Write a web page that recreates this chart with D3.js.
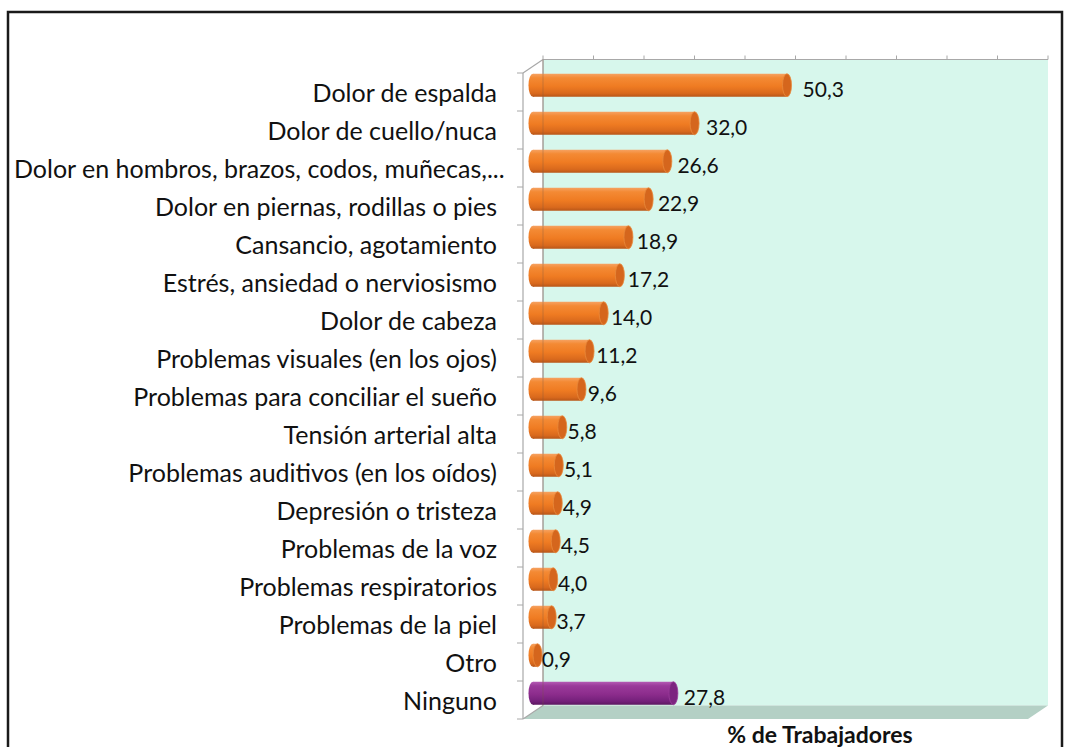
<!DOCTYPE html>
<html>
<head>
<meta charset="utf-8">
<script src="https://cdn.jsdelivr.net/npm/d3@7"></script>
<style>
  body { margin: 0; background: #fff; }
  text { font-family: Lato, "Open Sans", sans-serif; fill: #111; }
</style>
</head>
<body>
<script>
// categories (top to bottom) and % of workers
const categories = [
  "Dolor de espalda",
  "Dolor de cuello/nuca",
  "Dolor en hombros, brazos, codos, muñecas,...",
  "Dolor en piernas, rodillas o pies",
  "Cansancio, agotamiento",
  "Estrés, ansiedad o nerviosismo",
  "Dolor de cabeza",
  "Problemas visuales (en los ojos)",
  "Problemas para conciliar el sueño",
  "Tensión arterial alta",
  "Problemas auditivos (en los oídos)",
  "Depresión o tristeza",
  "Problemas de la voz",
  "Problemas respiratorios",
  "Problemas de la piel",
  "Otro",
  "Ninguno"
];
const values = [50.3, 32.0, 26.6, 22.9, 18.9, 17.2, 14.0, 11.2, 9.6, 5.8, 5.1, 4.9, 4.5, 4.0, 3.7, 0.9, 27.8];
const valueTicks = [0, 10, 20, 30, 40, 50, 60, 70, 80, 90, 100];
const axisTitle = "% de Trabajadores";

const W = 1065, H = 747;
const svg = d3.select("body").append("svg")
    .attr("width", W)
    .attr("height", H);

// 3d depth offset (front -> back)
const dx = 20, dy = -13.5;

// x on the back wall, y bands on the front edge
const x = d3.scaleLinear().domain([0, 100]).range([543, 1048]);
const y = d3.scaleBand().domain(categories).range([73, 719]);
const labelX = d3.scaleLinear().domain([0, 100]).range([537, 1065]);

const defs = svg.append("defs");
function grad(id, stops) {
  const g = defs.append("linearGradient").attr("id", id)
      .attr("x1", 0).attr("y1", 0).attr("x2", 0).attr("y2", 1);
  stops.forEach(s => g.append("stop").attr("offset", s[0]).attr("stop-color", s[1]));
}
grad("gOrange", [[0, "#f6a262"], [0.18, "#f48a34"], [0.55, "#ef7b22"], [0.85, "#d9691d"], [1, "#b85618"]]);
grad("gPurple", [[0, "#b45ab4"], [0.18, "#9a3a9a"], [0.55, "#8c2c8c"], [0.85, "#74207a"], [1, "#5c1660"]]);

// outer border
svg.append("rect")
    .attr("x", 8).attr("y", 12)
    .attr("width", 1054).attr("height", 760)
    .attr("fill", "none")
    .attr("stroke", "#1a1a1a")
    .attr("stroke-width", 2.5);

const x0 = x(0), x1 = x(100);
const yTop = y.range()[0], yBot = y.range()[1];

// back wall
svg.append("rect")
    .attr("x", x0).attr("y", yTop + dy)
    .attr("width", x1 - x0).attr("height", yBot - yTop)
    .attr("fill", "#d7f7ec");

// floor
svg.append("polygon")
    .attr("points", [[x0, yBot + dy], [x1, yBot + dy], [x1 - dx, yBot], [x0 - dx, yBot]].join(" "))
    .attr("fill", "#b4d0c5");

// wall edges
const grid = "#a8a8a8";
const edges = [
  [[x0 - dx, yTop], [x0 - dx, yBot]],
  [[x0 - dx, yTop], [x0, yTop + dy]],
  [[x0 - dx, yBot], [x0, yBot + dy]],
  [[x0, yTop + dy], [x0, yBot + dy]],
  [[x0, yTop + dy], [x1, yTop + dy]]
];
svg.selectAll("line.edge")
    .data(edges)
    .enter()
    .append("line")
    .attr("class", "edge")
    .attr("x1", d => d[0][0]).attr("y1", d => d[0][1])
    .attr("x2", d => d[1][0]).attr("y2", d => d[1][1])
    .attr("stroke", grid)
    .attr("stroke-width", 1.2);

// value ticks along top of the back wall
svg.selectAll("line.vtick")
    .data(valueTicks)
    .enter()
    .append("line")
    .attr("class", "vtick")
    .attr("x1", d => x(d)).attr("x2", d => x(d))
    .attr("y1", yTop + dy).attr("y2", yTop + dy - 4)
    .attr("stroke", grid);

// category ticks on the front-left edge
const bounds = categories.map(c => y(c)).concat([yBot]);
svg.selectAll("line.ctick")
    .data(bounds)
    .enter()
    .append("line")
    .attr("class", "ctick")
    .attr("x1", x0 - dx - 6).attr("x2", x0 - dx)
    .attr("y1", d => d).attr("y2", d => d)
    .attr("stroke", grid);

// bars (cylinders at half depth)
const bh = 23, rx = 4.5;
const bars = svg.selectAll("g.bar")
    .data(categories.map((c, i) => ({ c, v: values[i], last: c === "Ninguno" })))
    .enter()
    .append("g")
    .attr("class", "bar");

const bx0 = () => x(0) - dx / 2;
const bx1 = d => x(d.v) - dx / 2;
const byc = d => y(d.c) + y.bandwidth() / 2 + dy / 2;

bars.append("ellipse")
    .attr("cx", bx0)
    .attr("cy", byc)
    .attr("rx", rx).attr("ry", bh / 2)
    .attr("fill", d => d.last ? "url(#gPurple)" : "url(#gOrange)");
bars.append("rect")
    .attr("x", bx0)
    .attr("y", d => byc(d) - bh / 2)
    .attr("width", d => bx1(d) - bx0())
    .attr("height", bh)
    .attr("fill", d => d.last ? "url(#gPurple)" : "url(#gOrange)");
bars.append("ellipse")
    .attr("cx", bx1)
    .attr("cy", byc)
    .attr("rx", rx).attr("ry", bh / 2)
    .attr("fill", d => d.last ? "#7c2580" : "#d5661d")
    .attr("stroke", d => d.last ? "#9a3c9a" : "#e98a3c")
    .attr("stroke-width", 0.8);

// back wall edge shows through the bars
svg.append("line")
    .attr("x1", x0).attr("x2", x0)
    .attr("y1", yTop + dy).attr("y2", yBot + dy)
    .attr("stroke", "#7a5a40")
    .attr("stroke-opacity", 0.35);

// value labels
svg.selectAll("text.val")
    .data(values)
    .enter()
    .append("text")
    .attr("class", "val")
    .attr("x", d => labelX(d))
    .attr("y", (d, i) => y(categories[i]) + y.bandwidth() / 2 + 5)
    .style("font-size", "21px")
    .text(d => d.toFixed(1).replace(".", ","));

// category labels, right aligned; overflowing ones start at the border
const catLabels = svg.selectAll("text.cat")
    .data(categories)
    .enter()
    .append("text")
    .attr("class", "cat")
    .attr("x", 497)
    .attr("y", d => y(d) + y.bandwidth() / 2 + 9.5)
    .attr("text-anchor", "end")
    .style("font-size", "25px")
    .text(d => d);
catLabels.each(function () {
  const w = this.getComputedTextLength();
  if (497 - w < 14) {
    d3.select(this).attr("text-anchor", "start").attr("x", 14);
  }
});

// axis title
svg.append("text")
    .attr("x", 820)
    .attr("y", 743)
    .attr("text-anchor", "middle")
    .style("font-size", "23px")
    .style("font-weight", "bold")
    .text(axisTitle);
</script>
</body>
</html>
